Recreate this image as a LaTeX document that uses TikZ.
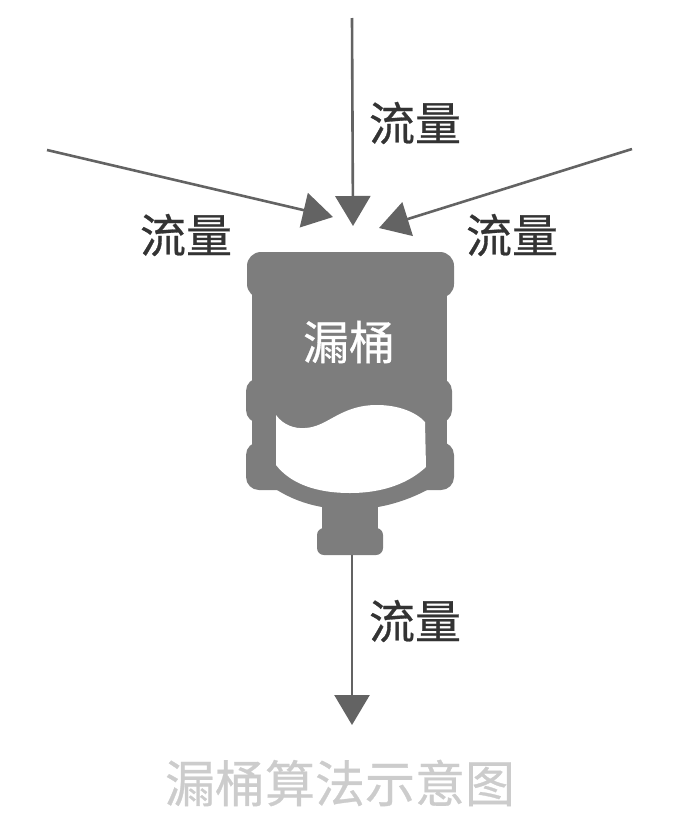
\documentclass[tikz,border=0pt]{standalone}
\usepackage{fontspec}
\newfontfamily\cjk[FakeBold=0.6]{Noto Sans CJK SC}
\usetikzlibrary{arrows.meta,positioning}
\definecolor{bucketgray}{HTML}{7D7D7D}
\definecolor{flowgray}{HTML}{636363}
\definecolor{titlegray}{HTML}{CCCCCC}
\tikzset{
  flowline/.style={draw=flowgray,line width=2.6pt,-{Triangle[length=30pt,width=35pt]}},
  flowlabel/.style={font=\cjk\fontsize{46}{46}\selectfont,text=black!80,inner sep=0pt},
}
\begin{document}
\begin{tikzpicture}[x=1pt,y=-1pt]
\useasboundingbox (0,0) rectangle (681,825);
% Bucket
\fill[bucketgray,rounded corners=14pt] (247,252) rectangle (454,298);
\fill[bucketgray] (252,270) rectangle (447,480);
\fill[bucketgray,rounded corners=13pt] (246,378) rectangle (452,423);
\fill[bucketgray,rounded corners=13pt] (246,442) rectangle (454,490);
\fill[bucketgray] (277,485) -- (277,490) .. controls (290,498) and (305,504) .. (322,507)
  -- (378,507) .. controls (395,504) and (412,498) .. (427,490) -- (427,485) -- cycle;
\fill[bucketgray] (322,500) rectangle (378,535);
\fill[bucketgray,rounded corners=7pt] (317,528) rectangle (383,555);
\fill[white] (276,415) .. controls (283,425) and (295,429) .. (305,428)
  .. controls (328,427) and (340,405) .. (377,405)
  .. controls (398,405) and (416,412) .. (425,422)
  -- (426,467) .. controls (410,482) and (385,493) .. (350,493)
  .. controls (315,493) and (290,483) .. (276,465) -- cycle;
% Nodes
\node[flowlabel,text=white] (bucket) at (349,342) {漏桶};
\node[flowlabel] (labeltop) at (415,123) {流量};
\node[flowlabel] (labelleft) at (186,235) {流量};
\node[flowlabel] (labelright) at (512,235) {流量};
\node[flowlabel] (labelout) at (415,621) {流量};
\node[font=\cjk\fontsize{50}{50}\selectfont,text=titlegray,inner sep=0pt] (title) at (340,783) {漏桶算法示意图};
% Connectors
\coordinate (topstart) at (352,18);
\coordinate (topend) at (353,226);
\coordinate (leftstart) at (47,150);
\coordinate (leftend) at (333,217);
\coordinate (rightstart) at (632,149);
\coordinate (rightend) at (379,228);
\coordinate (outstart) at (352,555);
\coordinate (outend) at (352,725);
\draw[flowline] (topstart) -- (topend);
\draw[flowline] (leftstart) -- (leftend);
\draw[flowline] (rightstart) -- (rightend);
\draw[flowline] (outstart) -- (outend);
\end{tikzpicture}
\end{document}
